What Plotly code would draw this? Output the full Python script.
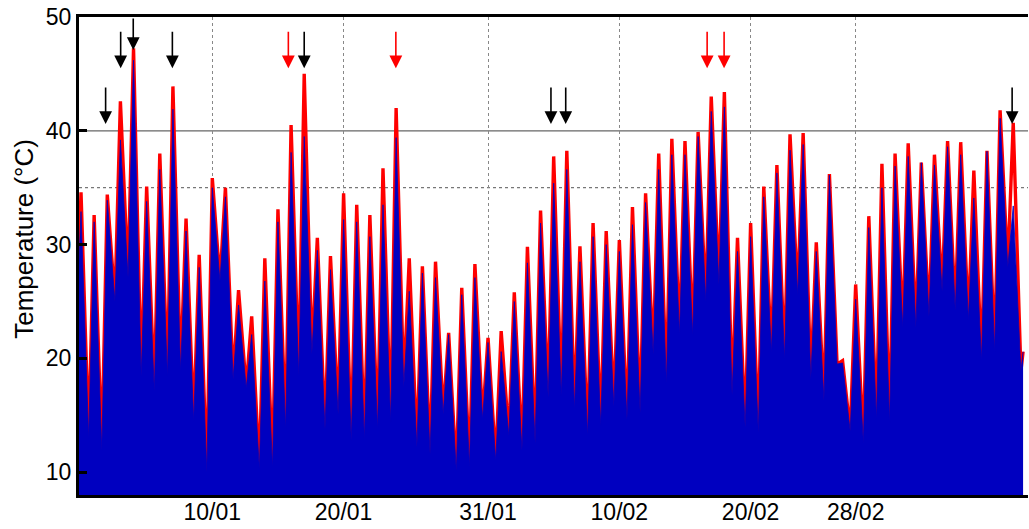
import plotly.graph_objects as go
import pandas as pd

# ---------------- data ----------------
start_date = "2013-12-31"          # first day shown (day 0)
# daily afternoon peak of the red series (deg C)
red_max = [34.6, 32.6, 34.4, 42.6, 47.25, 35.1, 38.0, 43.9, 32.3, 29.1,
           35.85, 35.0, 26.0, 23.7, 28.8, 33.1, 40.5, 45.0, 30.6, 29.0,
           34.5, 33.5, 32.6, 36.7, 42.0, 28.8, 28.1, 28.5, 22.25, 26.2,
           28.3, 21.8, 22.4, 25.8, 29.8, 33.0, 37.75, 38.25, 29.85, 31.9,
           31.2, 30.4, 33.3, 34.5, 38.0, 39.3, 39.1, 39.9, 43.0, 43.4,
           30.6, 31.9, 35.1, 37.0, 39.7, 39.8, 30.2, 36.2, 19.8, 26.5,
           32.5, 37.1, 38.0, 38.9, 37.2, 37.9, 39.1, 39.0, 36.5, 38.25,
           41.8, 40.7]
# daily afternoon peak of the blue series (deg C)
blue_max = [32.9, 32.0, 33.9, 39.2, 46.2, 33.8, 36.6, 41.9, 31.2, 28.0,
            35.0, 34.2, 24.7, 22.1, 26.8, 32.0, 38.1, 39.5, 29.5, 27.8,
            32.2, 32.0, 30.7, 33.5, 39.4, 25.9, 27.5, 27.1, 22.1, 25.6,
            27.1, 21.4, 20.6, 25.0, 28.4, 31.9, 35.4, 36.6, 28.5, 30.7,
            30.0, 29.4, 31.75, 33.7, 36.6, 37.9, 37.9, 39.5, 41.7, 42.1,
            29.4, 30.7, 34.2, 36.3, 38.3, 38.8, 29.4, 36.1, 19.6, 25.2,
            31.5, 35.0, 36.9, 37.75, 37.2, 37.0, 38.6, 37.9, 34.1, 38.2,
            41.1, 33.4]
# early-morning minimum following each day (deg C)
night_min = [13.0, 11.9, 25.0, 27.1, 18.45, 17.1, 18.45, 18.9, 14.5, 10.0,
             26.8, 18.2, 17.4, 10.3, 10.4, 13.8, 18.5, 20.4, 13.8, 15.1,
             12.75, 12.9, 13.8, 14.4, 17.5, 12.2, 11.6, 15.1, 10.1, 10.55,
             14.65, 11.0, 13.2, 11.9, 12.6, 16.55, 16.7, 15.5, 13.2, 14.1,
             15.8, 14.65, 15.2, 20.35, 17.8, 22.1, 22.0, 25.0, 26.5, 16.8,
             13.9, 13.5, 20.5, 19.9, 25.6, 18.2, 16.3, 19.5, 13.6, 12.6,
             14.65, 14.4, 22.7, 22.7, 23.7, 25.9, 24.2, 23.4, 19.8, 20.6,
             28.0, 18.9]
start_value = 27.0     # value at the first record
end_value = 20.6       # value at the last record

tick_dates = ["2014-01-10", "2014-01-20", "2014-01-31",
              "2014-02-10", "2014-02-20", "2014-02-28"]
tick_labels = ["10/01", "20/01", "31/01", "10/02", "20/02", "28/02"]
y_ticks = [10, 20, 30, 40, 50]

# marked hot days (arrows)
arrow_times = ["2014-01-02 12:00", "2014-01-03 15:30", "2014-01-04 14:30",
               "2014-01-07 14:00", "2014-01-16 10:00", "2014-01-17 15:00",
               "2014-01-24 14:30", "2014-02-05 10:00", "2014-02-06 13:00",
               "2014-02-17 07:30", "2014-02-18 14:30", "2014-03-12 13:00"]
arrow_tips = [40.6, 45.5, 47.1, 45.5, 45.5, 45.5,
              45.5, 40.6, 40.6, 45.5, 45.5, 40.6]
arrow_colors = ["black", "black", "black", "black", "red", "black",
                "red", "black", "black", "red", "red", "black"]

# ---------------- build time series ----------------
PEAK_H = 15
MIN_H = 29   # 05:00 next morning
days = pd.date_range(start_date, periods=len(red_max), freq="D")

def build(peaks):
    xs = [days[0] + pd.Timedelta(hours=10)]
    ys = [start_value]
    for d, p, m in zip(days, peaks, night_min):
        xs.append(d + pd.Timedelta(hours=PEAK_H)); ys.append(p)
        xs.append(d + pd.Timedelta(hours=MIN_H)); ys.append(m)
    xs.append(days[-1] + pd.Timedelta(hours=33)); ys.append(end_value)
    return xs, ys

xr, yr = build(red_max)
xb, yb = build(blue_max)

fig = go.Figure()
fig.add_trace(go.Scatter(x=xr, y=yr, mode="lines",
                         line=dict(color="#FF0000", width=3.4),
                         hoverinfo="skip"))
fig.add_trace(go.Scatter(x=xb, y=yb, mode="lines", fill="tozeroy",
                         fillcolor="#0000C0",
                         line=dict(color="#0000C0", width=0.8),
                         hoverinfo="skip"))

# reference lines
fig.add_hline(y=40, line=dict(color="#666666", width=1.3), layer="below")
fig.add_hline(y=35, line=dict(color="#777777", width=1.3, dash="dot"), layer="below")

for t, tip, c in zip(arrow_times, arrow_tips, arrow_colors):
    length = 33 if tip > 47 else 38
    fig.add_annotation(x=t, y=tip, xref="x", yref="y", text="",
                       showarrow=True, arrowhead=2, arrowsize=1.6,
                       arrowwidth=1.6, arrowcolor=c, ax=0, ay=-length)

# y-axis title (placed like the original, slightly above centre)
fig.add_annotation(text="Temperature (°C)", xref="paper", yref="paper",
                   x=-0.058, y=0.536, textangle=-90, showarrow=False,
                   xanchor="center", yanchor="middle",
                   font=dict(size=26))

tickvals = [pd.Timestamp(d) + pd.Timedelta(hours=PEAK_H) for d in tick_dates]

font = "Liberation Sans, Arial, sans-serif"
fig.update_layout(
    width=1029, height=529,
    margin=dict(l=79, r=1, t=17, b=34),
    paper_bgcolor="white", plot_bgcolor="white",
    showlegend=False,
    font=dict(family=font, size=23, color="black"),
    xaxis=dict(range=["2013-12-31 11:20", "2014-03-13 18:00"],
               tickvals=tickvals, ticktext=tick_labels,
               showgrid=True, gridcolor="#888888", griddash="dot", gridwidth=1,
               showline=True, linecolor="black", linewidth=3, mirror=True,
               ticks="", zeroline=False, ticklabelstandoff=-6,
               tickfont=dict(size=23)),
    yaxis=dict(range=[8, 50], tickvals=y_ticks,
               showgrid=False, zeroline=False,
               showline=True, linecolor="black", linewidth=3,
               ticks="inside", ticklen=8, tickwidth=3, tickcolor="black",
               tickfont=dict(size=23)),
)

fig.write_html("out.html")
